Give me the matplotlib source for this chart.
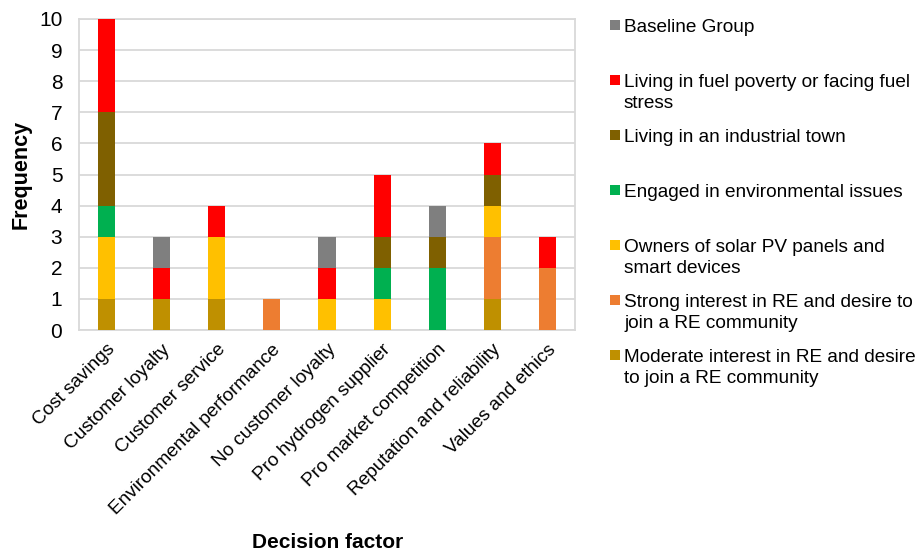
import matplotlib.pyplot as plt
from matplotlib.patches import Rectangle
import numpy as np

plt.rcParams['font.family'] = ['Liberation Sans', 'DejaVu Sans']

factors = ['Cost savings', 'Customer loyalty', 'Customer service',
           'Environmental performance', 'No customer loyalty',
           'Pro hydrogen supplier', 'Pro market competition',
           'Reputation and reliability', 'Values and ethics']

# stacking order, bottom to top
groups = ['Moderate interest in RE and desire\nto join a RE community',
          'Strong interest in RE and desire to\njoin a RE community',
          'Owners of solar PV panels and\nsmart devices',
          'Engaged in environmental issues',
          'Living in an industrial town',
          'Living in fuel poverty or facing fuel\nstress',
          'Baseline Group']

moderate = [1, 1, 1, 0, 0, 0, 0, 1, 0]
strong = [0, 0, 0, 1, 0, 0, 0, 2, 2]
solar = [2, 0, 2, 0, 1, 1, 0, 1, 0]
engaged = [1, 0, 0, 0, 0, 1, 2, 0, 0]
industrial = [3, 0, 0, 0, 0, 1, 1, 1, 0]
fuel_poverty = [3, 1, 1, 0, 1, 2, 0, 1, 1]
baseline = [0, 1, 0, 0, 1, 0, 1, 0, 0]

series = [moderate, strong, solar, engaged, industrial, fuel_poverty, baseline]
colors = ['#BF9000', '#ED7D31', '#FFC000', '#00B050', '#7F6000', '#FF0000', '#7F7F7F']

W, H = 921, 553
fig = plt.figure(figsize=(W / 100, H / 100), dpi=100)
ax = fig.add_axes([79 / W, 1 - 330 / H, 496 / W, 311 / H])

x = np.arange(len(factors))
bottom = np.zeros(len(factors))
for vals, col, name in zip(series, colors, groups):
    ax.bar(x, vals, 0.31, bottom=bottom, color=col, label=name, zorder=3)
    bottom += np.array(vals)

ax.set_xlim(-0.5, len(factors) - 0.5)
ax.set_ylim(0, 10)
ax.set_yticks(range(0, 11))
ax.set_xticks(x)
ax.set_xticklabels(factors, rotation=45, ha='right', va='top',
                   rotation_mode='anchor', fontsize=13.7)
ax.tick_params(length=0)
ax.tick_params(axis='y', labelsize=15, pad=12)
ax.tick_params(axis='x', pad=8)
ax.grid(axis='y', color='#D9D9D9', linewidth=1.3, zorder=0)
for s in ax.spines.values():
    s.set_color('#D9D9D9')
    s.set_linewidth(1.3)

ax.set_ylabel('Frequency', fontsize=15.5, fontweight='bold')
ax.yaxis.set_label_coords((32 - 79) / 496, 0.5)
fig.text(328 / W, 1 - 542 / H, 'Decision factor', fontsize=15, fontweight='bold',
         ha='center', va='center')

# legend drawn as a fixed grid of slots, top entry first
slot = 55
line_h = 21
for i, (name, col) in enumerate(zip(groups[::-1], colors[::-1])):
    yc = 25 + i * slot
    fig.patches.append(Rectangle((610 / W, 1 - (yc + 5) / H), 10 / W, 10 / H,
                                 facecolor=col, edgecolor='none',
                                 transform=fig.transFigure, figure=fig))
    for j, line in enumerate(name.split('\n')):
        fig.text(624 / W, 1 - (yc + 7 + j * line_h) / H, line, fontsize=13.7,
                 ha='left', va='baseline')

fig.savefig('out.png', dpi=100)
